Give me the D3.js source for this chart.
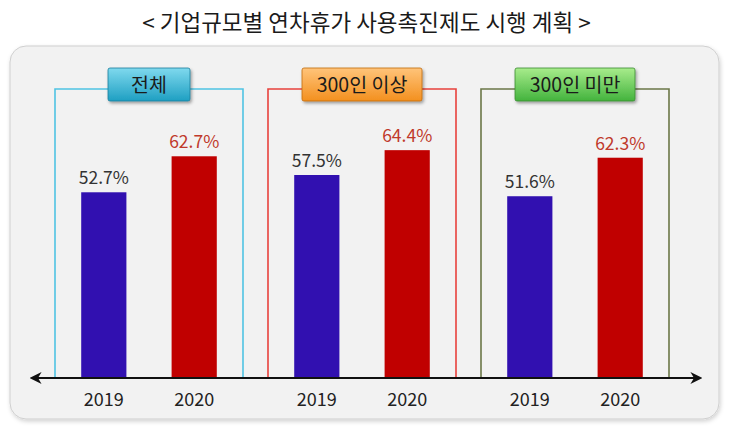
<!DOCTYPE html>
<html>
<head>
<meta charset="utf-8">
<script src="https://cdn.jsdelivr.net/npm/d3@7"></script>
<style>
  html, body { margin: 0; padding: 0; background: #fff; }
  svg { display: block; font-family: "Noto Sans CJK KR", "Noto Sans", sans-serif; }
</style>
</head>
<body>
<svg id="chart" width="733" height="436"></svg>
<script>
// groups (company size) and years
const groups = ["전체", "300인 이상", "300인 미만"];
const years = ["2019", "2020"];
const values2019 = [52.7, 57.5, 51.6];
const values2020 = [62.7, 64.4, 62.3];
const title = "< 기업규모별 연차휴가 사용촉진제도 시행 계획 >";

const frameColors = ["#4fc3e3", "#e8413c", "#6b7748"];
const boxFills = [["#7fd9ee", "#1e9fc2"], ["#ffc47a", "#f3901f"], ["#a8ec8c", "#43b33d"]];
const boxStrokes = ["#1a7f9c", "#c06a10", "#3a8a30"];
const barColors = { "2019": "#3110b0", "2020": "#c00000" };
const labelColors = { "2019": "#333333", "2020": "#c0392b" };

const svg = d3.select("#chart");
const W = 733, H = 436;

const defs = svg.append("defs");
const shadow = defs.append("filter").attr("id", "shadow")
  .attr("x", "-20%").attr("y", "-20%").attr("width", "150%").attr("height", "160%");
shadow.append("feDropShadow").attr("dx", 1.5).attr("dy", 2).attr("stdDeviation", 1.5)
  .attr("flood-color", "#000").attr("flood-opacity", 0.35);
const panelShadow = defs.append("filter").attr("id", "panelShadow")
  .attr("x", "-5%").attr("y", "-5%").attr("width", "110%").attr("height", "112%");
panelShadow.append("feDropShadow").attr("dx", 1).attr("dy", 2).attr("stdDeviation", 2)
  .attr("flood-color", "#000").attr("flood-opacity", 0.18);

boxFills.forEach((c, i) => {
  const g = defs.append("linearGradient").attr("id", "grad" + i)
    .attr("x1", 0).attr("y1", 0).attr("x2", 0).attr("y2", 1);
  g.append("stop").attr("offset", "0%").attr("stop-color", c[0]);
  g.append("stop").attr("offset", "100%").attr("stop-color", c[1]);
});

const marker = (id, orient) => defs.append("marker").attr("id", id)
  .attr("viewBox", "0 0 10 10").attr("refX", 8).attr("refY", 5)
  .attr("markerWidth", 6).attr("markerHeight", 6).attr("orient", orient)
  .append("path").attr("d", "M0,0 L10,5 L0,10 L3,5 Z").attr("fill", "#111");
marker("arrowEnd", "auto");
marker("arrowStart", "auto-start-reverse");

// title
svg.append("text")
  .attr("x", W / 2).attr("y", 31)
  .attr("text-anchor", "middle")
  .style("font-size", "22.5px").style("font-weight", "400").attr("fill", "#1a1a1a")
  .text(title);

// panel
svg.append("rect")
  .attr("x", 10).attr("y", 46).attr("width", 709).attr("height", 373)
  .attr("rx", 16).attr("fill", "#f2f2f2").attr("stroke", "#cfcfcf")
  .attr("filter", "url(#panelShadow)");

// scales
const axisY = 378;
const x0 = d3.scaleBand().domain(groups).range([55, 669]).paddingInner(25 / 213).paddingOuter(0);
const x1 = d3.scaleBand().domain(years).range([0, x0.bandwidth()]).paddingInner(0.5).paddingOuter(0.29);
const y = d3.scaleLinear().domain([0, 100]).range([382, 22]);

const frameTop = 89;

const gGroups = svg.selectAll(".group").data(groups).enter().append("g")
  .attr("class", "group")
  .attr("transform", d => `translate(${x0(d)},0)`);

// frame (open at the bottom)
gGroups.append("path")
  .attr("d", `M0,${axisY} V${frameTop} H${x0.bandwidth()} V${axisY}`)
  .attr("fill", "none")
  .attr("stroke", (d, i) => frameColors[i])
  .attr("stroke-width", 1.6);

// bars
const barData = (d, i) => years.map(yr => ({ year: yr, value: yr === "2019" ? values2019[i] : values2020[i] }));
gGroups.selectAll(".bar").data(barData).enter().append("rect")
  .attr("class", "bar")
  .attr("x", d => x1(d.year))
  .attr("y", d => y(d.value))
  .attr("width", x1.bandwidth())
  .attr("height", d => axisY - y(d.value))
  .attr("fill", d => barColors[d.year]);

gGroups.selectAll(".val").data(barData).enter().append("text")
  .attr("class", "val")
  .attr("x", d => x1(d.year) + x1.bandwidth() / 2)
  .attr("y", d => y(d.value) - 8)
  .attr("text-anchor", "middle")
  .style("font-size", "17.5px")
  .attr("fill", d => labelColors[d.year])
  .text(d => d.value.toFixed(1) + "%");

// year labels via axis
gGroups.append("g")
  .attr("transform", `translate(0,${axisY + 12})`)
  .call(d3.axisBottom(x1).tickSize(0))
  .call(g => g.select(".domain").remove())
  .call(g => g.selectAll("text")
    .attr("fill", "#222")
    .style("font-size", "18px")
    .style("font-family", "\"Noto Sans CJK KR\", sans-serif"));

// label boxes
const boxW = [82, 120, 120];
gGroups.each(function (d, i) {
  const g = d3.select(this);
  const cx = x0.bandwidth() / 2;
  g.append("rect")
    .attr("x", cx - boxW[i] / 2).attr("y", 68)
    .attr("width", boxW[i]).attr("height", 33)
    .attr("rx", 2)
    .attr("fill", `url(#grad${i})`)
    .attr("stroke", boxStrokes[i]).attr("stroke-width", 0.8)
    .attr("filter", "url(#shadow)");
  g.append("text")
    .attr("x", cx).attr("y", 92)
    .attr("text-anchor", "middle")
    .style("font-size", "19.5px").style("font-weight", "400")
    .attr("fill", "#1a1a1a")
    .text(d);
});

// horizontal axis with arrows
svg.append("line")
  .attr("x1", 32).attr("x2", 700)
  .attr("y1", axisY).attr("y2", axisY)
  .attr("stroke", "#111").attr("stroke-width", 2)
  .attr("marker-end", "url(#arrowEnd)")
  .attr("marker-start", "url(#arrowStart)");
</script>
</body>
</html>
